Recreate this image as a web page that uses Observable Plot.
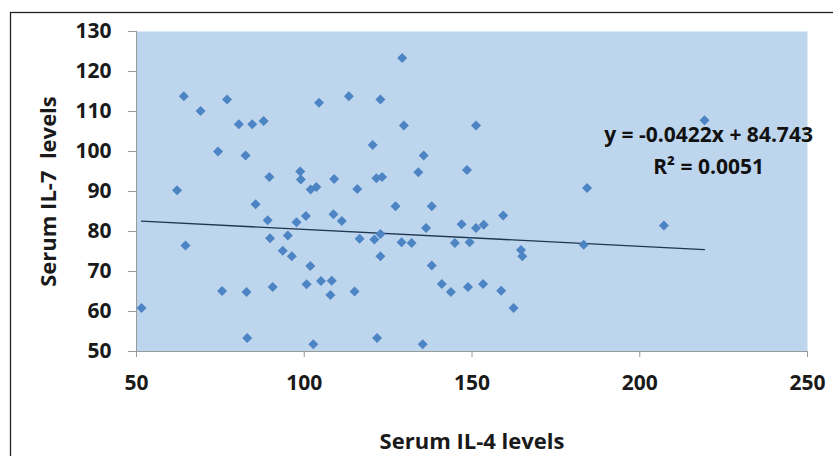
<!DOCTYPE html>
<html>
<head>
<meta charset="utf-8">
<script src="https://cdn.jsdelivr.net/npm/d3@7"></script>
<script src="https://cdn.jsdelivr.net/npm/@observablehq/plot@0.6"></script>
<style>
  html, body { margin: 0; padding: 0; background: #fff; }
  #chart { position: relative; width: 833px; height: 456px; overflow: hidden; }
</style>
</head>
<body>
<div id="chart"></div>
<script>
// Serum IL-4 levels (x) and Serum IL-7 levels (y)
const il4 = [51.5, 62.1, 64.1, 64.6, 69.1, 74.3, 75.5, 77.0, 80.5, 82.5,
  82.8, 83.0, 84.5, 85.5, 87.9, 89.1, 89.6, 89.8, 90.6, 93.6,
  95.1, 96.3, 97.7, 98.8, 99.0, 100.5, 100.7, 101.8, 101.9, 102.7,
  103.6, 104.4, 105.0, 107.8, 108.2, 108.7, 108.9, 111.2, 113.3, 115.0,
  115.8, 116.5, 120.4, 120.9, 121.5, 121.7, 122.7, 122.7, 122.7, 123.2,
  127.2, 129.0, 129.2, 129.7, 132.0, 134.0, 135.3, 135.6, 136.3, 138.0,
  138.0, 141.0, 143.7, 144.9, 146.9, 148.5, 148.8, 149.3, 151.2, 151.2,
  153.3, 153.5, 158.7, 159.3, 162.4, 164.6, 165.0, 183.3, 184.3, 207.2,
  219.3];
const il7 = [60.9, 90.3, 113.8, 76.5, 110.1, 100.0, 65.1, 113.0, 106.8, 99.0,
  64.9, 53.4, 106.8, 86.8, 107.6, 82.8, 93.6, 78.3, 66.1, 75.2,
  79.0, 73.8, 82.3, 95.0, 93.0, 83.9, 66.8, 71.4, 90.5, 51.8,
  91.1, 112.2, 67.6, 64.1, 67.7, 84.3, 93.1, 82.6, 113.8, 65.0,
  90.6, 78.2, 101.6, 78.0, 93.3, 53.4, 113.0, 79.4, 73.8, 93.6,
  86.3, 77.3, 123.4, 106.5, 77.1, 94.8, 51.8, 99.0, 80.9, 86.3,
  71.5, 66.9, 64.9, 77.1, 81.8, 95.4, 66.1, 77.3, 106.5, 80.9,
  66.9, 81.7, 65.2, 84.0, 60.9, 75.4, 73.8, 76.7, 90.9, 81.5,
  107.8];

const xTicks = [50, 100, 150, 200, 250];
const yTicks = [50, 60, 70, 80, 90, 100, 110, 120, 130];
const slope = -0.0422;
const intercept = 84.743;
const equationLines = ["y = -0.0422x + 84.743", "R\u00B2 = 0.0051"];

const points = il4.map((x, i) => ({x, y: il7[i]}));
const xMin = d3.min(il4), xMax = d3.max(il4);
const trend = [xMin, xMax].map(x => ({x, y: slope * x + intercept}));
const eqLabel = [{text: equationLines[0], x: 220.5, y: 104}, {text: equationLines[1], x: 220.5, y: 96}];

const font = "'Open Sans', 'DejaVu Sans', sans-serif";

const plot = Plot.plot({
  width: 833,
  height: 456,
  marginLeft: 136,
  marginRight: 26,
  marginTop: 31,
  marginBottom: 105,
  style: {fontFamily: font, fontSize: "21px", fontWeight: 700, color: "#1a1a1a", background: "transparent"},
  x: {domain: [50, 250]},
  y: {domain: [50, 130]},
  marks: [
    Plot.frame({fill: "#bdd6ee", stroke: null}),
    Plot.ruleX([50], {stroke: "#9a9a9a", strokeWidth: 1}),
    Plot.ruleY([50], {stroke: "#9a9a9a", strokeWidth: 1}),
    Plot.axisY({ticks: yTicks, tickSize: 8, tickPadding: 17, stroke: "#9a9a9a",
      label: "Serum IL-7  levels", labelAnchor: "center", labelArrow: "none", labelOffset: 96}),
    Plot.axisX({ticks: xTicks, tickSize: 6, tickPadding: 18, stroke: "#9a9a9a",
      label: "Serum IL-4 levels", labelAnchor: "center", labelArrow: "none", labelOffset: 97}),
    Plot.line(trend, {x: "x", y: "y", stroke: "#1f3550", strokeWidth: 1.3}),
    Plot.dot(points, {x: "x", y: "y", symbol: "square", rotate: 45, r: 4, fill: "#4c84c4", stroke: "none"}),
    Plot.text(eqLabel, {x: "x", y: "y", text: "text", fontSize: 21, fontWeight: 700, fill: "#111", textAnchor: "middle"})
  ]
});

document.getElementById("chart").appendChild(plot);
d3.select(plot).append("rect")
  .attr("x", 10.5).attr("y", 12.5).attr("width", 900).attr("height", 900)
  .attr("fill", "none").attr("stroke", "#222").attr("stroke-width", 1.3);
d3.select(plot).selectAll("g[aria-label='y-axis label'] text, g[aria-label='x-axis label'] text")
  .style("font-size", "22px").style("font-weight", 700);
</script>
</body>
</html>
